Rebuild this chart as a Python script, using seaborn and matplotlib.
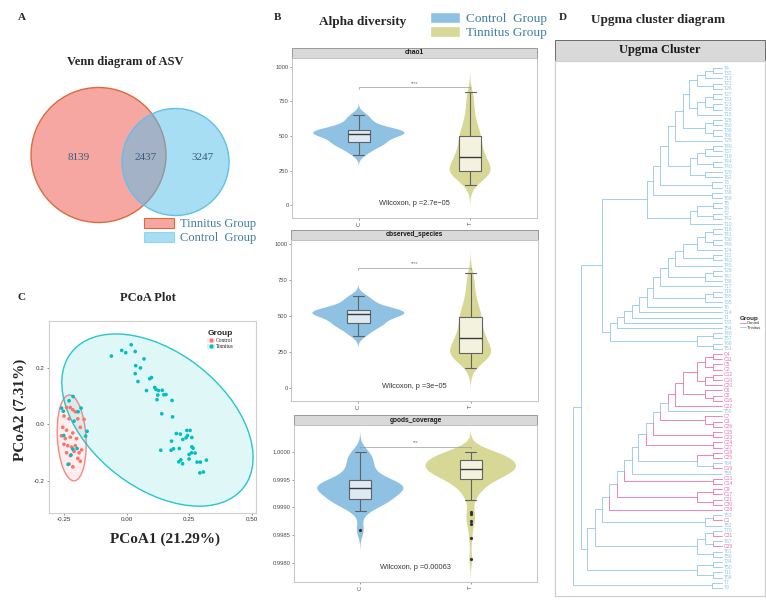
import numpy as np
import pandas as pd
import matplotlib
matplotlib.use("Agg")
import matplotlib.pyplot as plt
from matplotlib.patches import Circle, Ellipse, Rectangle, Patch
from matplotlib.lines import Line2D
import seaborn as sns

# -------------------------------------------------------------
# DATA
# -------------------------------------------------------------
# A - Venn (only tinnitus, shared, only control)
venn_labels = ["Tinnitus Group", "Control  Group"]
venn_counts = [8139, 2437, 3247]

# C - PCoA
pcoa_pct = [21.29, 7.31]
ctrl_pc1 = [-0.240, -0.225, -0.215, -0.205, -0.250, -0.230, -0.195, -0.255, -0.240, -0.215,
            -0.185, -0.170, -0.260, -0.245, -0.225, -0.200, -0.250, -0.235, -0.220, -0.205,
            -0.180, -0.240, -0.225, -0.210, -0.195, -0.185, -0.230, -0.215, -0.190]
ctrl_pc2 = [0.060, 0.060, 0.052, 0.045, 0.030, 0.020, 0.020, -0.010, -0.020, -0.030,
            -0.010, 0.018, -0.040, -0.050, -0.045, -0.050, -0.070, -0.075, -0.080, -0.075,
            -0.090, -0.100, -0.110, -0.095, -0.120, -0.130, -0.140, -0.150, -0.100]
tinn_pc1 = [-0.061, -0.020, -0.004, 0.018, 0.034, 0.069, 0.036, 0.055, 0.034, 0.045,
            0.092, 0.099, 0.079, 0.112, 0.117, 0.127, 0.142, 0.124, 0.121, 0.148,
            0.157, 0.181, 0.140, 0.183, 0.240, 0.253, 0.198, 0.214, 0.224, 0.179,
            0.177, 0.187, 0.210, 0.237, 0.243, 0.260, 0.265, 0.259, 0.273, 0.249,
            0.249, 0.216, 0.223, 0.208, 0.136, 0.281, 0.294, 0.292, 0.306, 0.318,
            0.260, -0.260, -0.253, -0.230, -0.214, -0.182, -0.194, -0.158, -0.164, -0.251,
            -0.210, -0.215, -0.222, -0.234, -0.198]
tinn_pc2 = [0.242, 0.262, 0.254, 0.282, 0.258, 0.232, 0.208, 0.200, 0.180, 0.152,
            0.162, 0.166, 0.120, 0.131, 0.124, 0.120, 0.121, 0.104, 0.088, 0.105,
            0.106, 0.085, 0.038, 0.027, -0.021, -0.021, -0.032, -0.034, -0.053, -0.059,
            -0.091, -0.086, -0.085, -0.047, -0.039, -0.079, -0.084, -0.100, -0.101, -0.106,
            -0.122, -0.125, -0.139, -0.132, -0.091, -0.133, -0.133, -0.171, -0.168, -0.126,
            -0.046, 0.058, 0.047, 0.084, 0.099, 0.058, 0.045, -0.024, -0.041, -0.039,
            0.012, -0.087, -0.108, -0.141, -0.085]

# B - alpha diversity
chao1_ctrl = [365, 390, 410, 425, 437, 445, 450, 455, 470, 482, 492, 500, 506, 511, 515,
              519, 523, 527, 532, 537, 541, 545, 552, 562, 575, 592, 612, 635, 655]
chao1_tinn = [145, 160, 172, 185, 195, 205, 212, 218, 222, 226,
              230, 233, 236, 238, 240, 242, 243, 244, 246, 250,
              256, 262, 268, 274, 280, 286, 292, 298, 305, 312,
              320, 328, 336, 344, 348, 352, 358, 365, 372, 380,
              388, 396, 405, 415, 425, 436, 448, 460, 472, 482,
              490, 494, 498, 505, 515, 528, 542, 556, 570, 585,
              600, 618, 638, 660, 685, 712, 740, 770, 795, 820]
obs_ctrl = [360, 385, 405, 420, 433, 442, 449, 455, 468, 480, 490, 498, 504, 509, 513,
            517, 521, 525, 530, 535, 540, 544, 550, 559, 570, 586, 603, 622, 640]
obs_tinn = [140, 155, 168, 180, 190, 200, 208, 214, 219, 223,
            227, 230, 233, 236, 238, 240, 242, 244, 246, 249,
            254, 260, 266, 272, 278, 284, 290, 296, 303, 310,
            318, 326, 334, 342, 347, 351, 356, 363, 370, 378,
            386, 394, 402, 412, 422, 433, 445, 457, 469, 479,
            487, 492, 497, 503, 512, 524, 537, 550, 564, 578,
            592, 608, 626, 646, 668, 694, 720, 748, 775, 800]
goods_ctrl = [0.99860, 0.99894, 0.99902, 0.99908, 0.99911, 0.99913, 0.99914, 0.99915, 0.99920, 0.99925,
              0.99929, 0.99932, 0.99934, 0.99935, 0.99936, 0.99937, 0.99938, 0.99940, 0.99942, 0.99944,
              0.99947, 0.99950, 0.99956, 0.99963, 0.99970, 0.99978, 0.99986, 0.99993, 1.00000]
goods_tinn = [0.99807, 0.99845, 0.99870, 0.99875, 0.99888, 0.99892,
              0.99913, 0.99920, 0.99926, 0.99931, 0.99935, 0.99938, 0.99941, 0.99944, 0.99946, 0.99948,
              0.99949, 0.99950,
              0.99952, 0.99954, 0.99956, 0.99958, 0.99959, 0.99960, 0.99961, 0.99962, 0.99963, 0.99964,
              0.99965, 0.99966, 0.99967, 0.99967, 0.99968, 0.99968, 0.99969, 0.99969,
              0.99970, 0.99971, 0.99972, 0.99973, 0.99974, 0.99975, 0.99976, 0.99977, 0.99977, 0.99978,
              0.99979, 0.99980, 0.99981, 0.99982, 0.99983, 0.99984, 0.99985,
              0.99986, 0.99987, 0.99988, 0.99989, 0.99990, 0.99991, 0.99992, 0.99993, 0.99994, 0.99995,
              0.99996, 0.99997, 0.99998, 0.99998, 0.99999, 1.00000, 1.00000]
alpha_names = ["chao1", "observed_species", "goods_coverage"]
wilcox_p = ["2.7e\u221205", "3e\u221205", "0.00063"]
sig_marks = ["****", "****", "***"]

# D - UPGMA tree: leaves top->bottom, and height at which each neighbour pair joins
tree_leaves = ["T4", "T32", "T13", "T21", "T26", "T27", "T31", "T23", "T63", "T15",
               "T28", "T60", "T38", "T66", "T25", "T49", "T37", "T19", "T44", "T40",
               "T20", "T62", "T3", "T12", "T39", "T69", "T5", "T8", "T2", "T42",
               "T10", "T16", "T41", "T30", "T46", "T24", "T22", "T43", "T45", "T29",
               "T47", "T36", "T17", "T18", "T65", "T35", "T6", "T14", "T1", "T33",
               "T54", "T48", "T57", "T68", "T51", "C4", "C11", "C5", "C2", "C12",
               "C10", "C20", "C6", "C8", "C16", "C22", "T59", "C7", "C3", "C26",
               "C15", "C23", "C24", "C27", "C18", "C25", "T64", "C19", "T55", "C13",
               "C14", "C9", "C17", "C21", "C30", "C28", "T53", "C1", "T52", "T70",
               "C31", "T67", "C29", "T61", "T56", "T34", "T50", "T11", "T58", "T7", "T9"]
tree_heights = [0.09, 0.17, 0.25, 0.09, 0.33, 0.09, 0.17, 0.09, 0.25, 0.39,
                0.09, 0.17, 0.09, 0.47, 0.54, 0.09, 0.17, 0.25, 0.09, 0.32,
                0.17, 0.62, 0.10, 0.69, 0.10, 0.75, 0.09, 0.25, 0.09, 0.32,
                1.20, 0.09, 0.17, 0.09, 0.25, 0.39, 0.09, 0.47, 0.54, 0.09,
                0.17, 0.62, 0.69, 0.09, 0.17, 0.75, 0.83, 0.90, 0.98, 1.05,
                1.12, 0.09, 0.25, 0.09, 1.41, 0.09, 0.17, 0.09, 0.25, 0.09,
                0.17, 0.39, 0.17, 0.09, 0.47, 0.54, 0.62, 0.17, 0.09, 0.69,
                0.09, 0.76, 0.09, 0.84, 0.09, 0.25, 0.09, 0.90, 0.98, 0.09,
                1.05, 0.09, 0.25, 0.09, 1.13, 1.20, 0.09, 0.17, 1.27, 0.09,
                0.17, 0.09, 0.25, 0.09, 1.35, 0.09, 0.25, 0.09, 1.49, 0.10]

# -------------------------------------------------------------
# STYLE
# -------------------------------------------------------------
sns.set_theme(style="white")
plt.rcParams["font.family"] = ["Liberation Sans", "DejaVu Sans"]
SERIF = "Liberation Serif"
LEG_TXT = "#3f7fa3"
RED, CYAN = "#F8766D", "#00BFC4"
VIOLIN_COLS = {"C": "#8ec1e2", "T": "#d7d796"}
BOX_COLS = {"C": "#dde9f3", "T": "#f3f2df"}
PINK, BLUE = "#e873b0", "#94c5e6"

W, H = 766, 613
fig = plt.figure(figsize=(W / 100, H / 100), dpi=100)


def px_axes(x0, y0, x1, y1):
    return fig.add_axes([x0 / W, 1 - y1 / H, (x1 - x0) / W, (y1 - y0) / H])


def ftext(x, y, s, **kw):
    fig.text(x / W, 1 - y / H, s, **kw)


def strip(ax, label, frac, fc, ec, **kw):
    ax.add_patch(Rectangle((0, 1), 1, frac, transform=ax.transAxes, clip_on=False,
                           fc=fc, ec=ec, lw=0.6))
    ax.text(0.5, 1 + frac / 2, label, transform=ax.transAxes, ha="center", va="center", **kw)


# -------------------------------------------------------------
# A. VENN
# -------------------------------------------------------------
ftext(22, 17, "A", fontsize=8, fontweight="bold", family=SERIF, ha="center", va="center")
ftext(125, 62, "Venn diagram of ASV", fontsize=9, fontweight="bold", family=SERIF,
      ha="center", va="center")
axA = px_axes(0, 80, 270, 240)
axA.set_xlim(0, 270); axA.set_ylim(240, 80); axA.axis("off")
red_fill = (240 / 255, 80 / 255, 70 / 255, 0.5)
blue_fill = (80 / 255, 190 / 255, 235 / 255, 0.5)
axA.add_patch(Circle((98.5, 155), 67.5, fc=red_fill, ec="#dd6a3c", lw=1))
axA.add_patch(Circle((175.5, 162), 53.5, fc=blue_fill, ec="#5fc1ea", lw=1))
for xpos, n in zip([79, 146, 203], venn_counts):
    axA.text(xpos, 157, str(n), ha="center", va="center", fontsize=8, family=SERIF, color="#3b5b78")
fig.legend(handles=[Patch(fc=red_fill, ec="#dd6a3c", lw=0.8), Patch(fc=blue_fill, ec=blue_fill, lw=0.8)],
           labels=venn_labels, loc="upper left", bbox_to_anchor=(144 / W, 1 - 218 / H),
           frameon=False, prop={"family": SERIF, "size": 9}, labelcolor=LEG_TXT,
           handlelength=2.4, handleheight=0.85, labelspacing=0.15, handletextpad=0.5,
           borderpad=0, borderaxespad=0)

# -------------------------------------------------------------
# C. PCoA
# -------------------------------------------------------------
def t_ellipse(x, y, level=0.95, nu=5, iters=60):
    pts = np.column_stack([x, y])
    n = len(pts)
    mu, cov = pts.mean(0), np.cov(pts.T)
    for _ in range(iters):
        d = pts - mu
        m = np.einsum("ij,jk,ik->i", d, np.linalg.inv(cov), d)
        w = (nu + 2) / (nu + m)
        mu = (w[:, None] * pts).sum(0) / w.sum()
        d = pts - mu
        cov = (w[:, None] * d).T @ d / n
    dfd = n - 1
    fq = dfd / 2 * ((1 - level) ** (-2 / dfd) - 1)
    r = np.sqrt(2 * fq)
    vals, vecs = np.linalg.eigh(cov)
    ang = np.degrees(np.arctan2(vecs[1, 1], vecs[0, 1]))
    return mu, 2 * r * np.sqrt(vals[1]), 2 * r * np.sqrt(vals[0]), ang


ftext(22, 297, "C", fontsize=8, fontweight="bold", family=SERIF, ha="center", va="center")
ftext(148, 298, "PCoA Plot", fontsize=9, fontweight="bold", family=SERIF, ha="center", va="center")
axC = px_axes(49, 321, 256, 513)
for xs, ys, col in [(ctrl_pc1, ctrl_pc2, RED), (tinn_pc1, tinn_pc2, CYAN)]:
    mu, ew, eh, ang = t_ellipse(np.array(xs), np.array(ys))
    axC.add_patch(Ellipse(mu, ew, eh, angle=ang, fc=col, alpha=0.12, ec="none"))
    axC.add_patch(Ellipse(mu, ew, eh, angle=ang, fc="none", ec=col, lw=1.0, alpha=0.85))
pc_df = pd.DataFrame({"PC1": ctrl_pc1 + tinn_pc1, "PC2": ctrl_pc2 + tinn_pc2,
                      "Group": ["Control"] * len(ctrl_pc1) + ["Tinnitus"] * len(tinn_pc1)})
sns.scatterplot(data=pc_df, x="PC1", y="PC2", hue="Group", palette=[RED, CYAN], s=7,
                linewidth=0, legend=False, ax=axC)
axC.set_xlim(-0.31, 0.516); axC.set_ylim(-0.313, 0.366)
axC.set_xticks([-0.25, 0, 0.25, 0.5]); axC.set_xticklabels(["-0.25", "0.00", "0.25", "0.50"])
axC.set_yticks([-0.2, 0, 0.2]); axC.set_yticklabels(["-0.2", "0.0", "0.2"])
axC.tick_params(labelsize=4.5, length=1.5, width=0.4, pad=1.5, colors="#333333", left=True, bottom=True)
axC.set_xlabel(""); axC.set_ylabel("")
for sp in axC.spines.values():
    sp.set_color("#cfcfcf"); sp.set_linewidth(0.8)
leg_handles = [(Patch(fc=RED, alpha=0.15, ec=RED, lw=0.6), Line2D([], [], marker="o", ls="", color=RED, ms=2)),
               (Patch(fc=CYAN, alpha=0.15, ec=CYAN, lw=0.6), Line2D([], [], marker="o", ls="", color=CYAN, ms=2))]
axC.legend(leg_handles, ["Control", "Tinnitus"], title="Group", loc="upper left",
           bbox_to_anchor=(0.74, 0.98), frameon=False, prop={"family": SERIF, "size": 4},
           title_fontproperties={"weight": "bold", "size": 6}, handlelength=1.2, handleheight=0.9,
           labelspacing=0.15, handletextpad=0.3, alignment="left")
ftext(20, 410, f"PCoA2 ({pcoa_pct[1]}%)", fontsize=11, fontweight="bold", family=SERIF,
      rotation=90, ha="center", va="center")
ftext(165, 539, f"PCoA1 ({pcoa_pct[0]}%)", fontsize=11, fontweight="bold", family=SERIF,
      ha="center", va="center")

# -------------------------------------------------------------
# B. ALPHA DIVERSITY
# -------------------------------------------------------------
ftext(277, 18, "B", fontsize=8, fontweight="bold", family=SERIF, ha="center", va="center")
ftext(363, 22, "Alpha diversity", fontsize=9.5, fontweight="bold", family=SERIF, ha="center", va="center")
fig.legend(handles=[Patch(fc=VIOLIN_COLS["C"]), Patch(fc=VIOLIN_COLS["T"])],
           labels=["Control  Group", "Tinnitus Group"], loc="upper left",
           bbox_to_anchor=(430 / W, 1 - 12 / H), frameon=False, prop={"family": SERIF, "size": 9.5},
           labelcolor=LEG_TXT, handlelength=2.3, handleheight=0.85, labelspacing=0.1,
           handletextpad=0.45, borderpad=0, borderaxespad=0)

panels = [
    (chao1_ctrl, chao1_tinn, (292, 58, 537, 218), (-94, 1065), [0, 250, 500, 750, 1000], "{:.0f}"),
    (obs_ctrl, obs_tinn, (291, 240, 538, 401), (-90, 1028), [0, 250, 500, 750, 1000], "{:.0f}"),
    (goods_ctrl, goods_tinn, (294, 425, 537, 582), (0.997657, 1.000487),
     [0.9980, 0.9985, 0.9990, 0.9995, 1.0000], "{:.4f}"),
]
for i, (ctrl, tinn, box, ylim, yticks, fmt) in enumerate(panels):
    ax = px_axes(*box)
    df = pd.DataFrame({"group": ["C"] * len(ctrl) + ["T"] * len(tinn), "value": list(ctrl) + list(tinn)})
    # no hue here so both violins share one area scale (like ggplot's scale="area")
    sns.violinplot(data=df, x="group", y="value", color=VIOLIN_COLS["C"], inner=None,
                   cut=3, bw_adjust=0.8, density_norm="area", width=0.82, linewidth=0,
                   saturation=1, ax=ax)
    for coll, key in zip(ax.collections, ["C", "T"]):
        coll.set_facecolor(VIOLIN_COLS[key]); coll.set_edgecolor("none")
    sns.boxplot(data=df, x="group", y="value", hue="group", palette=BOX_COLS, width=0.2,
                linewidth=0.8, linecolor="#626262", saturation=1, fliersize=1.3, legend=False, ax=ax,
                medianprops={"color": "#3a3a3a", "linewidth": 1.0},
                flierprops={"marker": "o", "markerfacecolor": "#333333", "markeredgecolor": "#333333"})
    ax.set_xlim(-0.6, 1.6); ax.set_ylim(*ylim)
    ax.set_yticks(yticks); ax.set_yticklabels([fmt.format(v) for v in yticks])
    ax.set_xticks([0, 1]); ax.set_xticklabels(["C", "T"], rotation=90)
    ax.tick_params(labelsize=4.2, labelcolor="#4d4d4d", length=1.5, width=0.4, pad=1,
                   color="#4d4d4d", left=True, bottom=True)
    ax.set_xlabel(""); ax.set_ylabel("")
    for sp in ax.spines.values():
        sp.set_color("#c4c4c4"); sp.set_linewidth(0.7)
    # significance bracket placed from data range
    vals = np.array(ctrl + tinn)
    yb = vals.max() + 0.05 * (vals.max() - vals.min())
    tick = 0.01 * (ylim[1] - ylim[0])
    ax.plot([0, 0, 1, 1], [yb - tick, yb, yb, yb - tick], color="#9a9a9a", lw=0.5)
    ax.text(0.5, yb + tick, sig_marks[i], ha="center", va="bottom", fontsize=3.5, color="#777777")
    ax.text(0.5, 0.09, f"Wilcoxon, p ={wilcox_p[i]}", transform=ax.transAxes,
            ha="center", va="center", fontsize=5.3, color="#333333")
    strip(ax, alpha_names[i], 10 / (box[3] - box[1]), "#d9d9d9", "#8c8c8c",
          fontsize=4.8, fontweight="bold", color="#1a1a1a")

# -------------------------------------------------------------
# D. UPGMA TREE
# -------------------------------------------------------------
ftext(563, 17, "D", fontsize=8, fontweight="bold", family=SERIF, ha="center", va="center")
ftext(658, 20, "Upgma cluster diagram", fontsize=9.5, fontweight="bold", family=SERIF,
      ha="center", va="center")
axD = px_axes(555, 61, 765, 596)


def build(lo, hi):
    if lo == hi:
        return {"y": float(lo), "h": 0.0, "leaves": [lo], "kids": []}
    k = lo + int(np.argmax(tree_heights[lo:hi]))
    a, b = build(lo, k), build(k + 1, hi)
    return {"y": (a["y"] + b["y"]) / 2, "h": tree_heights[k],
            "leaves": a["leaves"] + b["leaves"], "kids": [a, b]}


root = build(0, len(tree_leaves) - 1)
depth = root["h"]


def branch_col(node):
    return PINK if all(tree_leaves[j].startswith("C") for j in node["leaves"]) else BLUE


def draw(node):
    for kid in node["kids"]:
        xp, xk = depth - node["h"], depth - kid["h"]
        axD.plot([xp, xp, xk], [node["y"], kid["y"], kid["y"]], color=branch_col(kid), lw=0.6)
        draw(kid)


draw(root)
for j, lab in enumerate(tree_leaves):
    axD.text(depth + 0.02, j, lab, fontsize=3.6, va="center", ha="left",
             color=PINK if lab.startswith("C") else BLUE)
n_leaf = len(tree_leaves)
axD.set_xlim(-0.18, depth + 0.43)
axD.set_ylim(n_leaf - 1 + 1.54, -1.35)
axD.set_xticks([]); axD.set_yticks([])
for sp in axD.spines.values():
    sp.set_color("#d0d0d0"); sp.set_linewidth(0.9)
strip(axD, "Upgma Cluster", 21 / 535, "#d9d9d9", "#555555", fontsize=9, fontweight="bold",
      family=SERIF, color="#1a1a1a")
axD.legend([Line2D([], [], color=PINK, lw=0.6), Line2D([], [], color=BLUE, lw=0.6)],
           ["Control", "Tinnitus"], title="Group", loc="upper left",
           bbox_to_anchor=(738 / W, 1 - 314 / H), bbox_transform=fig.transFigure, frameon=False,
           fontsize=3, title_fontproperties={"weight": "bold", "size": 4.5}, handlelength=1.4,
           labelspacing=0.1, handletextpad=0.3, alignment="left", borderpad=0)

fig.savefig("out.png", dpi=100)
